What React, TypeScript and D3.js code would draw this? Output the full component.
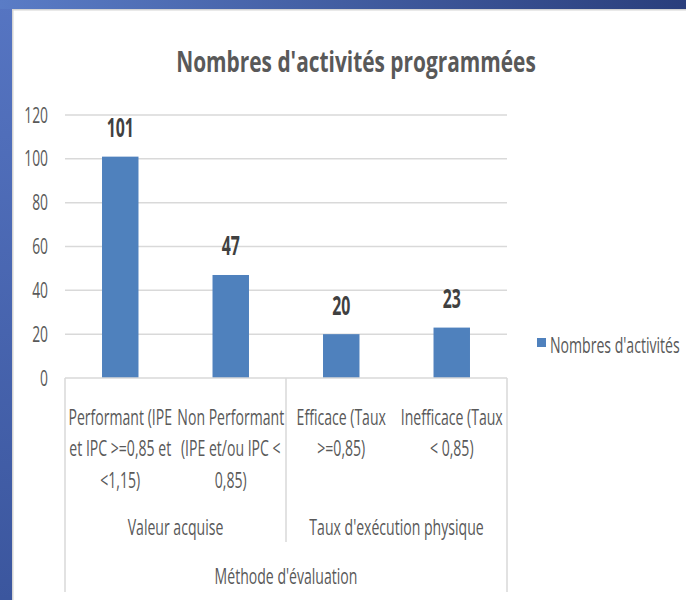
import React from "react";
import * as d3 from "d3";

const categories: string[][] = [
  ["Performant (IPE", "et IPC >=0,85 et", "<1,15)"],
  ["Non Performant", "(IPE et/ou IPC <", "0,85)"],
  ["Efficace (Taux", ">=0,85)"],
  ["Inefficace (Taux", "< 0,85)"],
];
const values: number[] = [101, 47, 20, 23];
const groups: { label: string; from: number; to: number }[] = [
  { label: "Valeur acquise", from: 0, to: 1 },
  { label: "Taux d'exécution physique", from: 2, to: 3 },
];
const outerLabel = "Méthode d'évaluation";
const yTicks: number[] = [0, 20, 40, 60, 80, 100, 120];
const title = "Nombres d'activités programmées";
const seriesName = "Nombres d'activités";

const W = 686;
const H = 600;
const FONT = "'Open Sans', 'Noto Sans', sans-serif";
const SX = 0.67;

function T(props: {
  x: number;
  y: number;
  size: number;
  anchor?: string;
  weight?: number | string;
  fill?: string;
  sx?: number;
  children: React.ReactNode;
}) {
  const { x, y, size, anchor = "middle", weight = 400, fill = "#595959", sx = SX } = props;
  return (
    <text
      transform={`translate(${x},${y}) scale(${sx},1)`}
      fontFamily={FONT}
      fontSize={size}
      fontWeight={weight}
      textAnchor={anchor}
      fill={fill}
    >
      {props.children}
    </text>
  );
}

export default function App() {
  const left = 65;
  const right = 507;
  const y = d3.scaleLinear().domain([0, 120]).range([378, 115]);
  const x = d3
    .scaleBand<number>()
    .domain(categories.map((_, i) => i))
    .range([left, right])
    .paddingInner(0.67)
    .paddingOuter(0.335);
  const step = x.step();
  const boundary = (i: number) => left + i * step;
  const y0 = y(0);

  return (
    <svg
      width={W}
      height={H}
      style={{ position: "absolute", left: 0, top: 0 }}
    >
      <defs>
        <linearGradient id="topg" x1="0" x2="1" y1="0" y2="0">
          <stop offset="0" stopColor="#5a7cc6" />
          <stop offset="1" stopColor="#2a3e7c" />
        </linearGradient>
        <linearGradient id="leftg" x1="0" x2="0" y1="0" y2="1">
          <stop offset="0" stopColor="#5675c2" />
          <stop offset="1" stopColor="#3b569e" />
        </linearGradient>
      </defs>
      <rect x={0} y={0} width={W} height={H} fill="#ffffff" />
      <rect x={0} y={0} width={12} height={H} fill="url(#leftg)" />
      <rect x={0} y={0} width={W} height={9} fill="url(#topg)" />
      <rect x={12} y={9} width={W - 12} height={1.5} fill="#d4d4d4" />
      <rect x={12} y={9} width={1.5} height={H - 9} fill="#d4d4d4" />

      <T x={356} y={72} size={29} weight={700} sx={0.72}>
        {title}
      </T>

      {yTicks.map((t) => (
        <g key={t}>
          {t > 0 && (
            <line x1={left} x2={right} y1={y(t)} y2={y(t)} stroke="#d9d9d9" strokeWidth={1.5} />
          )}
          <T x={48} y={y(t) + 7.5} size={21} anchor="end" sx={0.66}>
            {t}
          </T>
        </g>
      ))}

      {values.map((v, i) => (
        <g key={i}>
          <rect
            x={x(i)!}
            y={y(v)}
            width={x.bandwidth()}
            height={y0 - y(v)}
            fill="#4f81bd"
          />
          <T
            x={x(i)! + x.bandwidth() / 2}
            y={y(v) - 19.5}
            size={26}
            weight={700}
            fill="#404040"
            sx={0.61}
          >
            {v}
          </T>
        </g>
      ))}

      {/* category axis */}
      <line x1={left} x2={right} y1={y0} y2={y0} stroke="#d9d9d9" strokeWidth={1.5} />
      <line x1={left} x2={left} y1={y0} y2={592} stroke="#d9d9d9" strokeWidth={1.5} />
      <line x1={right} x2={right} y1={y0} y2={592} stroke="#d9d9d9" strokeWidth={1.5} />
      {groups.slice(1).map((g) => (
        <line
          key={g.label}
          x1={boundary(g.from)}
          x2={boundary(g.from)}
          y1={y0}
          y2={542}
          stroke="#d9d9d9"
          strokeWidth={1.5}
        />
      ))}

      {categories.map((lines, i) =>
        lines.map((ln, j) => (
          <T key={`${i}-${j}`} x={x(i)! + x.bandwidth() / 2} y={424.5 + j * 31.5} size={21}>
            {ln}
          </T>
        ))
      )}

      {groups.map((g) => (
        <T key={g.label} x={(boundary(g.from) + boundary(g.to + 1)) / 2} y={535} size={21}>
          {g.label}
        </T>
      ))}

      <T x={(left + right) / 2} y={584} size={21}>
        {outerLabel}
      </T>

      {/* legend */}
      <rect x={537} y={338} width={9} height={9} fill="#4f81bd" />
      <T x={550} y={353} size={21} anchor="start">
        {seriesName}
      </T>
    </svg>
  );
}
